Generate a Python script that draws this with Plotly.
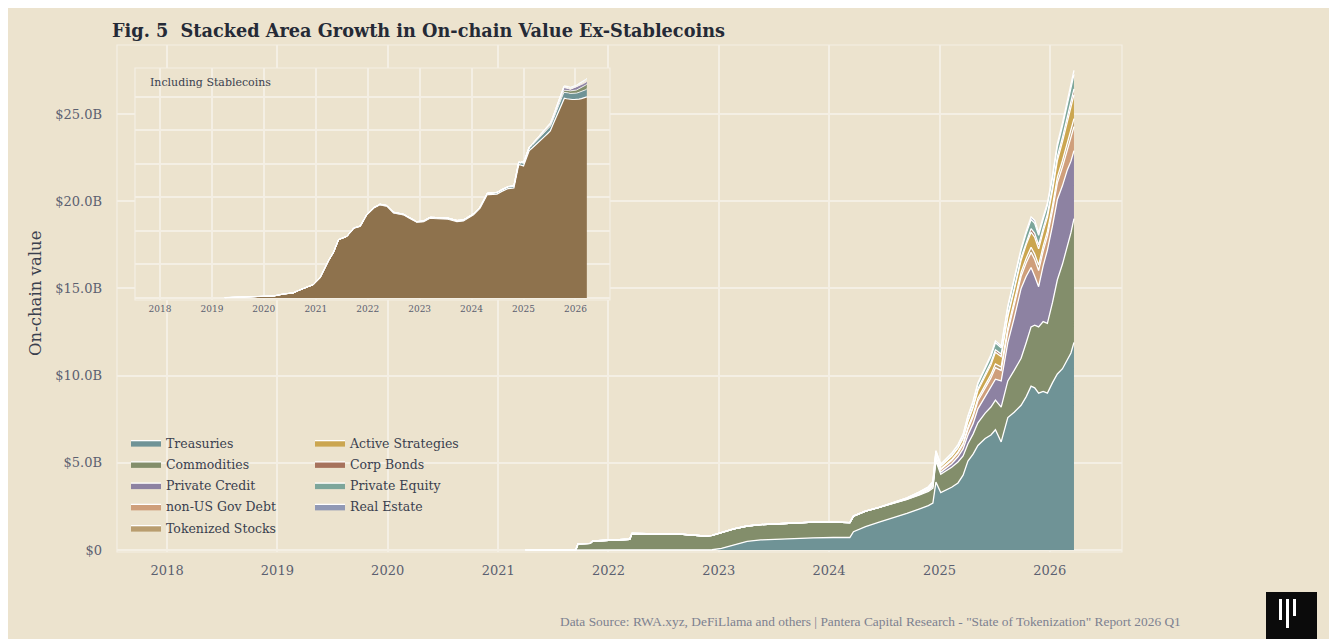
import plotly.graph_objects as go

# ---- data (values in $ billions) ----
dates = [
    "2021-04-01", "2021-09-15", "2021-09-22", "2021-11-01", "2021-11-10",
    "2022-02-15", "2022-03-12", "2022-03-20", "2022-06-10", "2022-08-25",
    "2022-10-15", "2022-11-20", "2022-12-10", "2023-01-10", "2023-02-20",
    "2023-04-05", "2023-05-20", "2023-07-20", "2023-09-15", "2023-11-10",
    "2024-01-15", "2024-03-10", "2024-03-22", "2024-05-01", "2024-06-15",
    "2024-08-01", "2024-09-15", "2024-10-25", "2024-11-25", "2024-12-10",
    "2024-12-20", "2025-01-05", "2025-01-22", "2025-02-10", "2025-03-03",
    "2025-03-20", "2025-04-05", "2025-04-22", "2025-05-08", "2025-06-01",
    "2025-06-20", "2025-07-05", "2025-07-24", "2025-08-15", "2025-09-05",
    "2025-09-28", "2025-10-15", "2025-10-31", "2025-11-12", "2025-11-25",
    "2025-12-10", "2025-12-24", "2026-01-10", "2026-01-26", "2026-02-12",
    "2026-02-28", "2026-03-12", "2026-03-22",
]

# each series listed from its first non-zero date up to the last date
treasuries = [0.02, 0.1, 0.3, 0.5, 0.58, 0.63, 0.66, 0.7, 0.72, 0.72,
              1.05, 1.35, 1.6, 1.85, 2.1, 2.35, 2.55, 2.7, 3.9, 3.3,
              3.45, 3.6, 3.85, 4.3, 5.1, 5.5, 6.0, 6.4, 6.6, 6.9,
              6.2, 7.6, 7.9, 8.3, 8.8, 9.4, 9.3, 9.0, 9.1, 9.0,
              9.6, 10.1, 10.4, 10.9, 11.3, 11.9]
commodities = [0.02, 0.02, 0.36, 0.38, 0.52, 0.6, 0.62, 0.95, 0.93, 0.92,
               0.85, 0.8, 0.82, 0.9, 0.92, 0.88, 0.88, 0.88, 0.9, 0.9,
               0.88, 0.85, 0.9, 0.88, 0.85, 0.82, 0.8, 0.8, 0.82, 0.85,
               1.2, 1.05, 1.1, 1.15, 1.2, 1.1, 1.0, 1.15, 1.3, 1.45,
               1.6, 1.7, 2.0, 2.1, 2.4, 2.7, 3.1, 3.4, 3.6, 3.8,
               4.0, 4.0, 4.6, 5.4, 6.0, 6.5, 6.9, 7.1]
private_credit = [0.03, 0.06, 0.08, 0.1, 0.12, 0.15, 0.2, 0.3, 0.4, 0.5,
                  0.6, 0.8, 0.95, 1.1, 1.2, 1.5, 2.2, 3.0, 4.0, 3.8,
                  3.4, 2.8, 2.3, 3.2, 4.2, 4.4, 4.6, 4.5, 4.4, 4.1, 3.9]
non_us_gov = [0.02, 0.03, 0.05, 0.06, 0.09, 0.15, 0.14, 0.15, 0.18, 0.21,
              0.26, 0.33, 0.39, 0.45, 0.5, 0.57, 0.66, 0.6, 0.63, 0.66,
              0.7, 0.78, 0.87, 0.96, 0.93, 0.84, 0.8, 0.87, 0.96, 1.08,
              1.17, 1.3, 1.38]
tokenized_stocks = [0.0, 0.01, 0.01, 0.02, 0.03, 0.05, 0.05, 0.05, 0.06, 0.07,
                    0.08, 0.11, 0.13, 0.15, 0.17, 0.19, 0.22, 0.2, 0.21, 0.22,
                    0.23, 0.26, 0.29, 0.32, 0.31, 0.28, 0.27, 0.29, 0.32, 0.36,
                    0.39, 0.43, 0.46]
active_strategies = [0.02, 0.03, 0.05, 0.06, 0.09, 0.16, 0.14, 0.15, 0.18, 0.21,
                     0.26, 0.33, 0.39, 0.45, 0.51, 0.57, 0.66, 0.6, 0.63, 0.66,
                     0.69, 0.78, 0.87, 0.96, 0.93, 0.84, 0.81, 0.87, 0.96, 1.08,
                     1.17, 1.29, 1.38]
corp_bonds = [0.0, 0.01, 0.01, 0.01, 0.02, 0.03, 0.03, 0.04, 0.04, 0.05,
              0.06, 0.08, 0.09, 0.1, 0.12, 0.13, 0.15, 0.14, 0.15, 0.15,
              0.16, 0.18, 0.2, 0.22, 0.22, 0.2, 0.19, 0.2, 0.22, 0.25,
              0.27, 0.3, 0.32]
private_equity = [0.01, 0.02, 0.03, 0.04, 0.05, 0.09, 0.08, 0.09, 0.11, 0.13,
                  0.15, 0.2, 0.23, 0.27, 0.31, 0.34, 0.4, 0.36, 0.38, 0.4,
                  0.41, 0.47, 0.52, 0.58, 0.56, 0.5, 0.49, 0.52, 0.58, 0.65,
                  0.7, 0.77, 0.83]
real_estate = [0.0, 0.0, 0.0, 0.01, 0.02, 0.02, 0.01, 0.02, 0.03, 0.03,
               0.04, 0.05, 0.07, 0.08, 0.09, 0.1, 0.11, 0.1, 0.1, 0.11,
               0.11, 0.13, 0.15, 0.16, 0.15, 0.14, 0.14, 0.15, 0.16, 0.18,
               0.2, 0.21, 0.23]

stable_dates = [
    "2019-04-01", "2019-09-01", "2020-01-01", "2020-03-10", "2020-05-20",
    "2020-07-25", "2020-09-10", "2020-12-15", "2021-01-30", "2021-03-15",
    "2021-05-05", "2021-06-10", "2021-08-08", "2021-09-25", "2021-11-10",
    "2021-12-25", "2022-02-10", "2022-03-28", "2022-05-15", "2022-07-01",
    "2022-09-10", "2022-12-12", "2023-01-30", "2023-03-15", "2023-07-15",
    "2023-09-20", "2023-11-05", "2024-01-15", "2024-03-01", "2024-04-20",
    "2024-06-28", "2024-09-05", "2024-10-25", "2024-11-28", "2025-01-01",
    "2025-02-05", "2025-03-15", "2025-05-20", "2025-07-08", "2025-08-25",
    "2025-10-12", "2025-11-25", "2026-01-10", "2026-02-28", "2026-03-22",
]
stablecoins = [0.5, 1.5, 2.5, 3, 6, 7.5, 12, 20, 30, 50,
               68, 87, 92, 104, 107, 124, 134, 139, 137, 127,
               124, 113, 114, 119, 118, 114, 115, 124, 134, 154,
               155, 163, 164, 199, 197, 219, 226, 239, 249, 274,
               298, 296, 296, 298, 300]

series_names = ["Treasuries", "Commodities", "Private Credit", "non-US Gov Debt",
                "Tokenized Stocks", "Active Strategies", "Corp Bonds",
                "Private Equity", "Real Estate"]
series_values = [treasuries, commodities, private_credit, non_us_gov,
                 tokenized_stocks, active_strategies, corp_bonds,
                 private_equity, real_estate]
series_colors = ["#6F9396", "#838E6B", "#8D82A2", "#CF9F7B", "#B99D6F",
                 "#CBA650", "#A6725C", "#7DA69B", "#9199B5"]

year_ticks = ["%d-01-01" % y for y in range(2018, 2027)]
year_labels = [str(y) for y in range(2018, 2027)]
y_ticks = [0, 5, 10, 15, 20, 25]
y_labels = ["$0", "$5.0B", "$10.0B", "$15.0B", "$20.0B", "$25.0B"]

BG = "#ECE3CE"
GRID = "#F4EFE4"
SERIF = "DejaVu Serif"

# the page puts the figure 8px in from the top-left corner
OFF = 8
# plot area in screen pixels
L, R, T, B = 117, 1122, 45, 552
W, H = R - L, B - T


def fx(px):
    return (px - L) / W


def fy(py):
    return (B - py) / H


n = len(dates)
fig = go.Figure()

# main stacked areas
for i, (name, vals, col) in enumerate(zip(series_names, series_values, series_colors)):
    full = [0.0] * (n - len(vals)) + vals
    fig.add_trace(go.Scatter(
        x=dates, y=full, name=name, mode="lines", stackgroup="main",
        line=dict(color="white", width=1.3), fillcolor=col,
        legend="legend" if i < 5 else "legend2",
        legendgroup=name,
    ))

# inset: stablecoins + the same categories
fig.add_trace(go.Scatter(
    x=stable_dates, y=stablecoins, name="Stablecoins", mode="lines",
    stackgroup="inset", stackgaps="interpolate",
    line=dict(color="white", width=1.2), fillcolor="#8E724D",
    xaxis="x2", yaxis="y2", showlegend=False,
))
for name, vals, col in zip(series_names, series_values, series_colors):
    full = [0.0] * (n - len(vals)) + vals
    fig.add_trace(go.Scatter(
        x=dates, y=full, name=name, mode="lines", stackgroup="inset",
        line=dict(color="white", width=0.8), fillcolor=col,
        xaxis="x2", yaxis="y2", showlegend=False,
    ))

legend_style = dict(
    bgcolor="rgba(0,0,0,0)", font=dict(family=SERIF, size=12.5, color="#3A3F4E"),
    yanchor="top", xanchor="left", tracegroupgap=2, traceorder="grouped",
)

shapes = [
    # panel borders
    dict(type="rect", xref="x domain", yref="y domain", x0=0, x1=1, y0=0, y1=1,
         line=dict(color=GRID, width=1.2)),
    dict(type="rect", xref="x2 domain", yref="y2 domain", x0=0, x1=1, y0=0, y1=1,
         line=dict(color=GRID, width=1.2)),
    # logo
    dict(type="rect", xref="paper", yref="paper", x0=fx(1266), x1=fx(1317),
         y0=fy(645), y1=fy(592), fillcolor="#0B0B0B", line=dict(width=0)),
    dict(type="rect", xref="paper", yref="paper", x0=fx(1279), x1=fx(1282),
         y0=fy(620), y1=fy(599), fillcolor="white", line=dict(width=0)),
    dict(type="rect", xref="paper", yref="paper", x0=fx(1286), x1=fx(1289),
         y0=fy(628), y1=fy(599), fillcolor="white", line=dict(width=0)),
    dict(type="rect", xref="paper", yref="paper", x0=fx(1293), x1=fx(1296),
         y0=fy(616), y1=fy(599), fillcolor="white", line=dict(width=0)),
]

fig.update_layout(
    width=1337, height=639,
    paper_bgcolor=BG, plot_bgcolor=BG,
    margin=dict(l=L - OFF, r=1337 - R + OFF, t=T - OFF, b=639 - B + OFF),
    font=dict(family=SERIF, color="#5B6070"),
    title=dict(
        text="<b>Fig. 5  Stacked Area Growth in On-chain Value Ex-Stablecoins</b>",
        x=(112 - OFF) / 1337, xanchor="left", y=1 - (31 - OFF) / 639, yanchor="middle",
        font=dict(family=SERIF, size=17.7, color="#252A36"),
    ),
    xaxis=dict(
        type="date", range=["2017-07-19", "2026-08-28"],
        tickvals=year_ticks, ticktext=year_labels,
        showgrid=True, gridcolor=GRID, gridwidth=1.6, zeroline=False,
        showline=False, ticks="", tickfont=dict(size=13, color="#5B6070"),
        ticklabelstandoff=9,
    ),
    yaxis=dict(
        range=[-0.11, 28.96], tickvals=y_ticks, ticktext=y_labels,
        showgrid=True, gridcolor=GRID, gridwidth=1.6, zeroline=False,
        showline=False, ticks="", tickfont=dict(size=13, color="#5B6070"),
        ticklabelstandoff=14,
    ),
    xaxis2=dict(
        type="date", range=["2017-07-09", "2026-09-01"],
        domain=[fx(135), fx(610)], anchor="y2",
        tickvals=year_ticks, ticktext=year_labels,
        showgrid=True, gridcolor=GRID, gridwidth=1.5, zeroline=False,
        ticks="", tickfont=dict(size=9, color="#5B6070"), ticklabelstandoff=2,
    ),
    yaxis2=dict(
        range=[-3, 343], domain=[fy(300), fy(68)], anchor="x2",
        tickvals=[0, 50, 100, 150, 200, 250, 300], showticklabels=False,
        showgrid=True, gridcolor=GRID, gridwidth=1.5, zeroline=False,
    ),
    legend=dict(x=fx(126), y=fy(428), **legend_style),
    legend2=dict(x=fx(310), y=fy(428), **legend_style),
    shapes=shapes,
    annotations=[
        dict(text="On-chain value", xref="paper", yref="paper",
             x=fx(35), y=fy(294), textangle=-90, showarrow=False,
             xanchor="center", yanchor="middle",
             font=dict(family=SERIF, size=16.5, color="#3A3F4E")),
        dict(text="Including Stablecoins", xref="paper", yref="paper",
             x=fx(148), y=fy(82), showarrow=False, xanchor="left", yanchor="middle",
             font=dict(family=SERIF, size=11, color="#3A3F4E")),
        dict(text='Data Source: RWA.xyz, DeFiLlama and others | Pantera Capital Research'
                  ' - "State of Tokenization" Report 2026 Q1',
             xref="paper", yref="paper", x=fx(1183), y=fy(621), showarrow=False,
             xanchor="right", yanchor="middle",
             font=dict(family="Liberation Serif", size=13.4, color="#7D8190")),
    ],
    showlegend=True,
    hovermode="x unified",
)

fig.write_html("out.html")
